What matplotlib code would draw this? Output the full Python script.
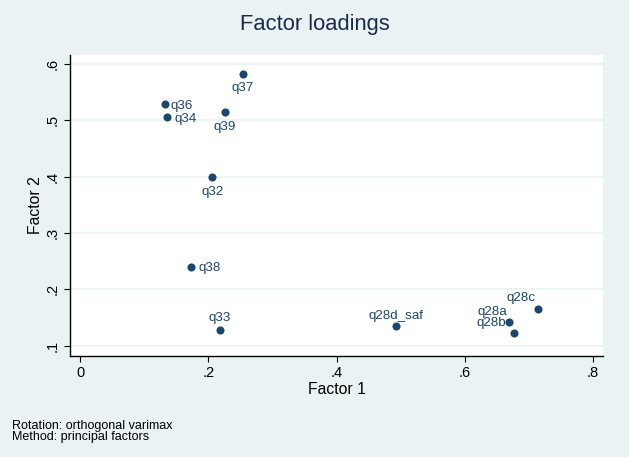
import matplotlib
matplotlib.use("Agg")
import matplotlib.pyplot as plt

# loadings
items = ["q37", "q36", "q34", "q39", "q32", "q38", "q33",
         "q28d_saf", "q28c", "q28a", "q28b"]
factor1 = [0.254, 0.132, 0.136, 0.225, 0.206, 0.173, 0.218,
           0.493, 0.714, 0.669, 0.676]
factor2 = [0.582, 0.529, 0.506, 0.515, 0.399, 0.240, 0.127,
           0.135, 0.165, 0.1415, 0.1225]

x_ticks = [0, 0.2, 0.4, 0.6, 0.8]
x_ticklabels = ["0", ".2", ".4", ".6", ".8"]
y_ticks = [0.1, 0.2, 0.3, 0.4, 0.5, 0.6]
y_ticklabels = [".1", ".2", ".3", ".4", ".5", ".6"]

# label placement: offset in pixels (dx, dy) and horizontal alignment
label_pos = {
    "q37": ((0, -14), "center"),
    "q36": ((6, -2), "left"),
    "q34": ((7, -2), "left"),
    "q39": ((0, -15), "center"),
    "q32": ((0, -15), "center"),
    "q38": ((7, -1), "left"),
    "q33": ((0, 12), "center"),
    "q28d_saf": ((0, 10), "center"),
    "q28c": ((-17, 11), "center"),
    "q28a": ((-2, 10), "right"),
    "q28b": ((-7, 10), "right"),
}

BG = "#EAF2F3"
NAVY = "#1a476f"
W, H = 629, 457

plt.rcParams["font.family"] = ["Liberation Sans", "DejaVu Sans"]

fig = plt.figure(figsize=(W / 100, H / 100), dpi=100)
fig.patch.set_facecolor(BG)
ax = fig.add_axes([70 / W, (H - 356) / H, (603 - 70) / W, (356 - 55) / H])
ax.set_facecolor("white")

ax.scatter(factor1, factor2, s=34, color=NAVY, zorder=3, linewidths=0)

px = 0.72  # points per pixel at 100 dpi
for name, x, y in zip(items, factor1, factor2):
    (dx, dy), ha = label_pos[name]
    ax.annotate(name, (x, y), xytext=(dx * px, dy * px), textcoords="offset points",
                ha=ha, va="center", fontsize=9.6, color=NAVY, zorder=4)

ax.set_xlim(-0.0161, 0.8156)
ax.set_ylim(0.0817, 0.616)
ax.set_xticks(x_ticks)
ax.set_xticklabels(x_ticklabels)
ax.set_yticks(y_ticks)
ax.set_yticklabels(y_ticklabels, rotation=90, va="center")

ax.tick_params(direction="out", length=4.5, width=0.8, colors="black",
               labelsize=10.5, pad=3)
ax.yaxis.grid(True, color=BG, linewidth=1.3)
ax.set_axisbelow(True)

for s in ["top", "right"]:
    ax.spines[s].set_visible(False)
for s in ["left", "bottom"]:
    ax.spines[s].set_linewidth(1.0)

ax.set_xlabel("Factor 1", fontsize=11.3, labelpad=1)
ax.set_ylabel("Factor 2", fontsize=11.3, labelpad=2)

fig.text(0.5, 1 - 30 / H, "Factor loadings", ha="center", va="baseline",
         fontsize=15.8, color="#1e2a4a")
fig.text(12 / W, 1 - 420 / H, "Rotation: orthogonal varimax\nMethod: principal factors",
         ha="left", va="top", fontsize=9, linespacing=0.92)

fig.savefig("out.png", dpi=100, facecolor=BG)
